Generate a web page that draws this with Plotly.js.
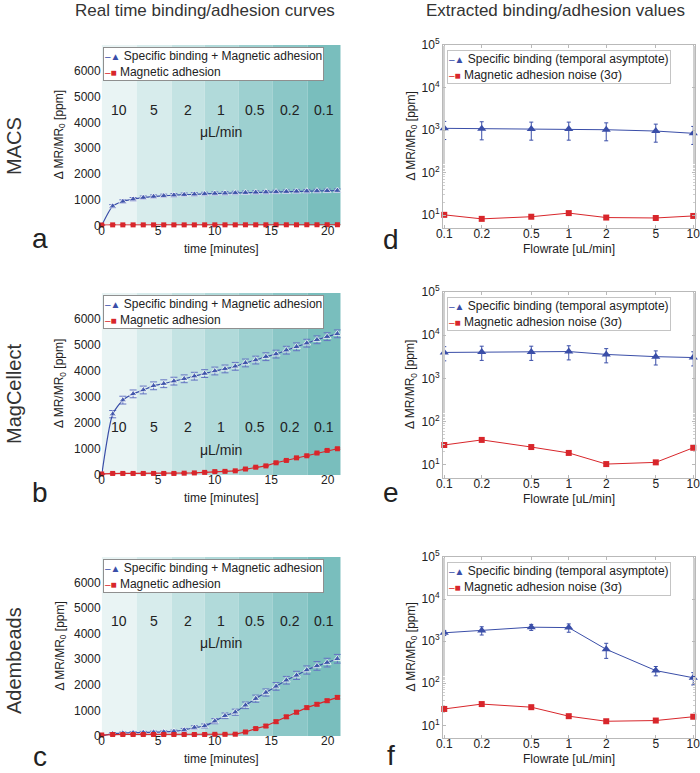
<!DOCTYPE html>
<html>
<head>
<meta charset="utf-8">
<script src="https://cdn.plot.ly/plotly-3.0.1.min.js"></script>
<style>html, body { margin: 0; padding: 0; background: #fff; }</style>
</head>
<body>
<div id="chart" style="width:700px;height:773px"></div>
<script>
// time course sampling (minutes)
const timeMin = [0, 0.97, 1.87, 2.78, 3.68, 4.59, 5.49, 6.39, 7.30, 8.20, 9.11, 10.01, 10.91, 11.82, 12.72, 13.63, 14.53, 15.43, 16.34, 17.24, 18.15, 19.05, 19.95, 20.86];

// MACS
const macsTotal = [0, 750, 930, 1020, 1080, 1120, 1150, 1175, 1195, 1210, 1225, 1240, 1250, 1262, 1272, 1283, 1293, 1302, 1312, 1320, 1330, 1338, 1345, 1352];
const macsTotalErr = [0, 60, 65, 65, 65, 65, 65, 65, 65, 65, 65, 65, 65, 65, 65, 65, 65, 65, 65, 65, 65, 65, 65, 65];
const macsAdh = [20, 25, 25, 25, 25, 25, 25, 25, 25, 25, 26, 26, 26, 26, 27, 27, 27, 28, 28, 28, 29, 29, 30, 30];
const macsAdhErr = [0, 10, 10, 10, 10, 10, 10, 10, 10, 10, 10, 10, 10, 10, 10, 10, 10, 10, 10, 10, 10, 10, 10, 10];

// MagCellect
const magTotal = [0, 2340, 2880, 3120, 3270, 3430, 3510, 3610, 3700, 3800, 3900, 4000, 4080, 4180, 4310, 4420, 4550, 4650, 4800, 4930, 5070, 5200, 5320, 5430];
const magTotalErr = [0, 140, 150, 150, 150, 150, 150, 150, 150, 150, 150, 150, 150, 150, 150, 150, 150, 150, 150, 150, 150, 150, 150, 150];
const magAdh = [40, 60, 60, 60, 60, 60, 60, 60, 70, 80, 100, 130, 140, 160, 230, 300, 350, 470, 560, 660, 740, 845, 945, 1010];
const magAdhErr = [0, 15, 15, 15, 15, 15, 15, 15, 15, 15, 15, 20, 20, 20, 25, 25, 25, 30, 30, 30, 30, 30, 30, 30];

// Adembeads
const ademTotal = [0, 90, 115, 130, 140, 150, 160, 180, 235, 330, 390, 580, 790, 930, 1200, 1460, 1700, 1940, 2180, 2370, 2580, 2740, 2870, 3020];
const ademTotalErr = [0, 40, 40, 40, 40, 40, 40, 50, 60, 70, 80, 100, 110, 120, 130, 140, 140, 150, 150, 160, 160, 170, 170, 170];
const ademAdh = [40, 60, 60, 60, 60, 60, 60, 60, 60, 60, 60, 65, 65, 70, 157, 290, 390, 560, 750, 930, 1110, 1240, 1380, 1510];
const ademAdhErr = [0, 20, 20, 20, 20, 20, 20, 20, 20, 20, 20, 20, 20, 20, 30, 40, 50, 60, 60, 60, 60, 60, 60, 60];

// flowrate steps (bands) along the time axis
const bandEdges = [0, 3.1, 6.2, 9.1, 12.1, 15.1, 18.2, 21.2];
const bandLabels = ['10', '5', '2', '1', '0.5', '0.2', '0.1'];
const bandColors = ['#e9f4f4', '#d7ecec', '#c4e3e3', '#b1dada', '#9dd0d0', '#8bc7c7', '#79bebd'];

// extracted values vs flowrate
const flowrates = [0.1, 0.2, 0.5, 1, 2, 5, 10];
const flowTickText = ['0.1', '0.2', '0.5', '1', '2', '5', '10'];
const macsAsym = [1100, 1080, 1060, 1060, 1020, 950, 840];
const macsAsymErr = [500, 490, 480, 480, 460, 430, 380];
const macsNoise = [10.2, 8.2, 9.2, 11.2, 8.8, 8.6, 9.6];
const magAsym = [4000, 4100, 4100, 4200, 3600, 3200, 3050];
const magAsymErr = [1440, 1480, 1480, 1510, 1300, 1150, 1100];
const magNoise = [29, 38, 26, 19, 10.5, 11.5, 25];
const ademAsym = [1580, 1800, 2150, 2100, 640, 200, 135];
const ademAsymErr = [220, 400, 350, 470, 250, 50, 44];
const ademNoise = [24.5, 32, 27, 16.5, 12.5, 13, 16];

const timeTicks = [0, 5, 10, 15, 20];
const respTicks = [0, 1000, 2000, 3000, 4000, 5000, 6000];
const logTicks = [10, 100, 1000, 10000, 100000];
const logTickText = ['10<sup>1</sup>', '10<sup>2</sup>', '10<sup>3</sup>', '10<sup>4</sup>', '10<sup>5</sup>'];

const W = 700, H = 773;
const FONT = 'Liberation Sans, Arial, Helvetica, sans-serif';
const INK = '#222';
const BLUE = '#3a4ea8';
const RED = '#d8262b';
const FRAME = '#b9b9b9';

const samples = [
  { name: 'MACS', letter: 'a', right: 'd', total: macsTotal, totalErr: macsTotalErr, adh: macsAdh, adhErr: macsAdhErr,
    asym: macsAsym, asymErr: macsAsymErr, noise: macsNoise, labelY: 4480, unitY: 3640 },
  { name: 'MagCellect', letter: 'b', right: 'e', total: magTotal, totalErr: magTotalErr, adh: magAdh, adhErr: magAdhErr,
    asym: magAsym, asymErr: magAsymErr, noise: magNoise, labelY: 1830, unitY: 975 },
  { name: 'Adembeads', letter: 'c', right: 'f', total: ademTotal, totalErr: ademTotalErr, adh: ademAdh, adhErr: ademAdhErr,
    asym: ademAsym, asymErr: ademAsymErr, noise: ademNoise, labelY: 4480, unitY: 3640 },
];

// pixel geometry of the panels (and where the row/panel labels sit)
const rowBox = [
  { top: 45, bottom: 225.5, rTop: 45, rBottom: 228, nameY: 146, letterY: [241, 240] },
  { top: 293, bottom: 475, rTop: 292, rBottom: 478, nameY: 394, letterY: [496, 494] },
  { top: 557, bottom: 736, rTop: 557, rBottom: 738, nameY: 661, letterY: [759, 756] },
];
const leftX = [101.7, 340.7];
const rightX = [443, 695];

const xd = (a, b) => [a / W, b / W];
const yd = (top, bottom) => [1 - bottom / H, 1 - top / H];

function ann(text, x, y, extra) {
  return Object.assign({
    text, x: x / W, y: 1 - y / H, xref: 'paper', yref: 'paper', showarrow: false,
    xanchor: 'center', yanchor: 'middle',
    font: { family: FONT, size: 12, color: INK },
  }, extra || {});
}

const traces = [];
const layout = {
  width: W, height: H, autosize: false,
  margin: { l: 0, r: 0, t: 0, b: 0 },
  paper_bgcolor: '#fff', plot_bgcolor: 'rgba(0,0,0,0)',
  showlegend: false,
  font: { family: FONT, size: 12, color: INK },
  shapes: [], annotations: [],
};

const totalSizes = timeMin.map((t, i) => (i === 0 ? 0 : 7));
const legendText = (a, b) =>
  `<span style="color:${BLUE};font-size:10px">–▲</span> ${a}<br><span style="color:${RED};font-size:10px">–■</span> ${b}`;

samples.forEach((s, i) => {
  const L = 2 * i + 1;          // time-course axes index
  const R = 2 * i + 2;          // flowrate axes index
  const lx = 'x' + L, ly = 'y' + L, rx = 'x' + R, ry = 'y' + R;
  const box = rowBox[i];

  traces.push({
    x: timeMin, y: s.total, xaxis: lx, yaxis: ly, type: 'scatter', mode: 'lines+markers', cliponaxis: false,
    line: { color: BLUE, width: 1.2, shape: 'spline', smoothing: 0.6 },
    marker: { symbol: 'triangle-up', size: totalSizes, color: BLUE },
    error_y: { type: 'data', array: s.totalErr, color: '#6473c2', thickness: 1, width: 3.5 },
  });
  traces.push({
    x: timeMin, y: s.adh, xaxis: lx, yaxis: ly, type: 'scatter', mode: 'lines+markers', cliponaxis: false,
    line: { color: RED, width: 1.2 },
    marker: { symbol: 'square', size: 5, color: RED },
    error_y: { type: 'data', array: s.adhErr, color: '#e0474c', thickness: 1, width: 3 },
  });
  traces.push({
    x: flowrates, y: s.asym, xaxis: rx, yaxis: ry, type: 'scatter', mode: 'lines+markers', cliponaxis: false,
    line: { color: BLUE, width: 1 },
    marker: { symbol: 'triangle-up', size: 8, color: BLUE },
    error_y: { type: 'data', array: s.asymErr, color: BLUE, thickness: 1, width: 2 },
  });
  traces.push({
    x: flowrates, y: s.noise, xaxis: rx, yaxis: ry, type: 'scatter', mode: 'lines+markers', cliponaxis: false,
    line: { color: RED, width: 1 },
    marker: { symbol: 'square', size: 6, color: RED },
  });

  const suffix = L === 1 ? '' : String(L);
  const rsuffix = String(R);
  layout['xaxis' + suffix] = {
    domain: xd(leftX[0], leftX[1]), range: [0, 21.15], anchor: ly,
    tickvals: timeTicks, ticks: '', showgrid: false, zeroline: false, showline: false,
    tickfont: { size: 12, color: INK, family: FONT }, ticklabeloverflow: 'allow', ticklabelstandoff: -4,
  };
  layout['yaxis' + suffix] = {
    domain: yd(box.top, box.bottom), range: [0, 7000], anchor: lx,
    tickvals: respTicks, ticks: '', showgrid: false, zeroline: false, showline: false,
    tickfont: { size: 12, color: INK, family: FONT },
  };
  layout['xaxis' + rsuffix] = {
    domain: xd(rightX[0], rightX[1]), type: 'log', range: [-1.01, 1.014], anchor: ry,
    tickvals: flowrates, ticktext: flowTickText, ticks: 'inside', ticklen: 3, tickcolor: FRAME,
    showline: true, linecolor: FRAME, linewidth: 1, mirror: 'ticks', showgrid: false, zeroline: false,
    tickfont: { size: 12, color: INK, family: FONT }, ticklabeloverflow: 'allow', ticklabelstandoff: -5,
  };
  layout['yaxis' + rsuffix] = {
    domain: yd(box.rTop, box.rBottom), type: 'log', range: [0.699, 5], anchor: rx,
    tickvals: logTicks, ticktext: logTickText, ticks: 'inside', ticklen: 3, tickcolor: FRAME,
    minor: { ticks: 'inside', ticklen: 2, tickcolor: '#cfcfcf', showgrid: false },
    showline: true, linecolor: FRAME, linewidth: 1, mirror: 'ticks', showgrid: false, zeroline: false,
    tickfont: { size: 12, color: INK, family: FONT },
  };

  // flowrate bands behind the time course
  bandColors.forEach((c, k) => {
    const x1 = Math.min(bandEdges[k + 1], 21.15);
    layout.shapes.push({
      type: 'rect', xref: lx, yref: ly + ' domain', x0: bandEdges[k], x1,
      y0: 0, y1: 1, fillcolor: c, line: { width: 0 }, layer: 'below',
    });
    layout.annotations.push({
      text: bandLabels[k], xref: lx, yref: ly, x: (bandEdges[k] + x1) / 2, y: s.labelY,
      xanchor: 'center', yanchor: 'middle',
      showarrow: false, font: { family: FONT, size: 14, color: INK },
    });
  });
  layout.annotations.push({
    text: 'μL/min', xref: lx, yref: ly, x: 10.56, y: s.unitY, showarrow: false,
    xanchor: 'center', yanchor: 'middle',
    font: { family: FONT, size: 14, color: INK },
  });

  // legends
  layout.annotations.push(ann(legendText('Specific binding + Magnetic adhesion', 'Magnetic adhesion'),
    leftX[0] + 1.5, box.top + 2,
    { xanchor: 'left', yanchor: 'top', align: 'left', bgcolor: '#fff', bordercolor: '#8f8f8f', borderwidth: 1, borderpad: 1 }));
  layout.annotations.push(ann(legendText('Specific binding (temporal asymptote)', 'Magnetic adhesion noise (3σ)'),
    rightX[0] + 3.5, box.rTop + 5,
    { xanchor: 'left', yanchor: 'top', align: 'left', bgcolor: '#fff', bordercolor: '#c4c4c4', borderwidth: 1, borderpad: 1 }));

  // axis titles
  const yTitle = 'Δ MR/MR<sub>0</sub> [ppm]';
  layout.annotations.push(ann(yTitle, 60, (box.top + box.bottom) / 2, { textangle: -90 }));
  layout.annotations.push(ann(yTitle, 411, (box.rTop + box.rBottom) / 2, { textangle: -90 }));
  layout.annotations.push(ann('time [minutes]', (leftX[0] + leftX[1]) / 2, box.bottom + 23));
  layout.annotations.push(ann('Flowrate [uL/min]', (rightX[0] + rightX[1]) / 2, box.rBottom + 21));

  // row label and panel letters
  layout.annotations.push(ann(s.name, 14, box.nameY,
    { textangle: -90, font: { family: FONT, size: 20, color: '#333' } }));
  layout.annotations.push(ann(s.letter, 40, box.letterY[0] - 3, { font: { family: FONT, size: 28, color: INK } }));
  layout.annotations.push(ann(s.right, 391, box.letterY[1] - 1, { font: { family: FONT, size: 28, color: INK } }));
});

layout.annotations.push(ann('Real time binding/adhesion curves', 205, 11,
  { font: { family: FONT, size: 17, color: '#333' } }));
layout.annotations.push(ann('Extracted binding/adhesion values', 555, 11,
  { font: { family: FONT, size: 17, color: '#333' } }));

Plotly.newPlot('chart', traces, layout, { displayModeBar: false, staticPlot: true });
</script>
</body>
</html>
